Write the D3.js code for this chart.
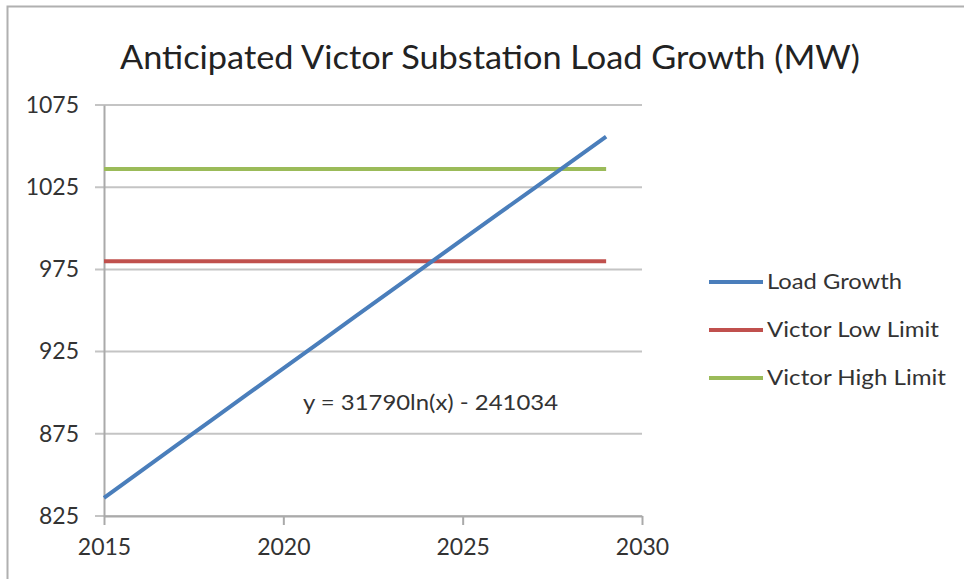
<!DOCTYPE html>
<html><head><meta charset="utf-8">
<script src="https://cdn.jsdelivr.net/npm/d3@7"></script>
<style>body{margin:0;background:#fff}svg{display:block}text{font-family:Lato,"Open Sans",sans-serif;fill:#333}</style>
</head><body>
<svg id="c" width="964" height="579"></svg>
<script>
const years = [2015,2016,2017,2018,2019,2020,2021,2022,2023,2024,2025,2026,2027,2028,2029];
const loadGrowth = [836,851.8,867.6,883.3,899.1,914.8,930.5,946.2,961.9,977.6,993.2,1008.9,1024.5,1040.1,1055.7];
const lowLimit = [980,980,980,980,980,980,980,980,980,980,980,980,980,980,980];
const highLimit = [1036,1036,1036,1036,1036,1036,1036,1036,1036,1036,1036,1036,1036,1036,1036];
const seriesNames = ["Load Growth","Victor Low Limit","Victor High Limit"];
const seriesColors = ["#4a7ebb","#c0504d","#9bbb59"];
const yTicks = [825,875,925,975,1025,1075];
const xTicks = [2015,2020,2025,2030];
const title = "Anticipated Victor Substation Load Growth (MW)";
const equation = "y = 31790ln(x) - 241034";

const svg = d3.select("#c");
// frame
svg.append("path").attr("d","M7.5,579 V6.5 H964").attr("fill","none").attr("stroke","#b0b0b0").attr("stroke-width",2);

const x = d3.scaleLinear().domain([2015,2030]).range([104,642]);
const y = d3.scaleLinear().domain([825,1075]).range([516,105]);

svg.append("text").attr("x",120).attr("y",69)
  .attr("textLength",740).attr("lengthAdjust","spacingAndGlyphs")
  .style("font-size","32px").style("fill","#222").text(title);

// grid
svg.append("g").selectAll("line").data(yTicks).join("line")
  .attr("x1",95).attr("x2",x(2030)).attr("y1",d=>y(d)).attr("y2",d=>y(d))
  .attr("stroke","#c4c4c4").attr("stroke-width",2);

// y axis
const ya = svg.append("g").attr("transform",`translate(${x(2015)},0)`)
  .call(d3.axisLeft(y).tickValues(yTicks).tickFormat(d3.format("d")).tickSize(0).tickPadding(25));
ya.select(".domain").attr("stroke","#aaa").attr("stroke-width",2);
ya.selectAll("text").style("font-size","23px").style("font-family","Lato").attr("fill","#333");

// x axis
const xa = svg.append("g").attr("transform",`translate(0,${y(825)})`)
  .call(d3.axisBottom(x).tickValues(xTicks).tickFormat(d3.format("d")).tickSize(9).tickSizeOuter(0).tickPadding(14));
xa.select(".domain").attr("stroke","#aaa").attr("stroke-width",2);
xa.selectAll(".tick line").attr("stroke","#aaa").attr("stroke-width",2);
xa.selectAll("text").style("font-size","23px").style("font-family","Lato").attr("fill","#333");

const data = [loadGrowth, lowLimit, highLimit];
const line = d3.line().x((d,i)=>x(years[i])).y(d=>y(d));
[2,1,0].forEach(k=>{
  svg.append("path").datum(data[k]).attr("d",line).attr("fill","none")
    .attr("stroke",seriesColors[k]).attr("stroke-width",4);
});

svg.append("text").attr("x",303).attr("y",410)
  .attr("textLength",255).attr("lengthAdjust","spacingAndGlyphs")
  .style("font-size","21px").style("fill","#333").text(equation);

// legend
const legendLens = [135,172,179];
const lg = svg.append("g");
seriesNames.forEach((n,i)=>{
  const yy = 282 + i*48;
  lg.append("line").attr("x1",709).attr("x2",763).attr("y1",yy).attr("y2",yy)
    .attr("stroke",seriesColors[i]).attr("stroke-width",4);
  lg.append("text").attr("x",767).attr("y",yy+7)
    .attr("textLength",legendLens[i]).attr("lengthAdjust","spacingAndGlyphs")
    .style("font-size","21px").style("fill","#333").text(n);
});
</script>
</body></html>
